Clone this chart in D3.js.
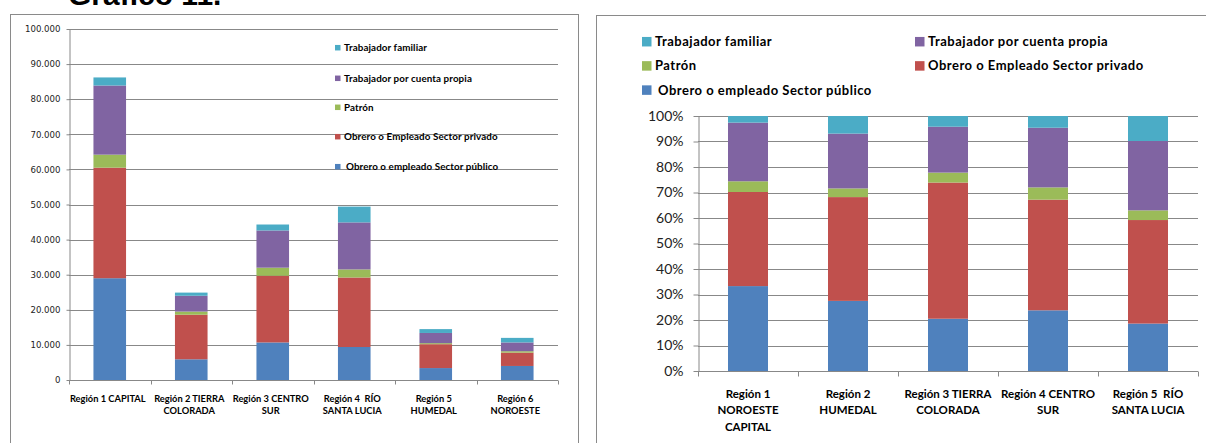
<!DOCTYPE html>
<html>
<head>
<meta charset="utf-8">
<script src="https://cdn.jsdelivr.net/npm/d3@7"></script>
<style>
	body { margin: 0; background: #fff; }
	svg { display: block; }
	.frame { fill: none; stroke: #8a8a8a; stroke-width: 1px; }
	.grid line { stroke: #888; stroke-width: 1.2px; }
	.axis-line { stroke: #888; stroke-width: 1px; }
	.title { font-family: 'Liberation Sans', Arial, sans-serif; font-weight: bold; font-size: 30px; fill: #000; }
	text { white-space: pre; }
</style>
</head>
<body>
<svg id="chart" width="1206" height="443"></svg>
<script>
// Series (stack order, bottom to top)
const categorias = ['Obrero o empleado Sector público', 'Obrero o Empleado Sector privado', 'Patrón', 'Trabajador por cuenta propia', 'Trabajador familiar'];
const colores = ['#4F81BD', '#C0504D', '#9BBB59', '#8064A2', '#4BACC6'];

// Left chart: absolute values
const regionesAbs = ['Región 1 CAPITAL', 'Región 2 TIERRA\nCOLORADA', 'Región 3 CENTRO\nSUR', 'Región 4  RÍO\nSANTA LUCIA', 'Región 5\nHUMEDAL', 'Región 6\nNOROESTE'];
const absPublico  = [29000, 5900, 10700, 9400, 3400, 4000];
const absPrivado  = [31500, 12700, 19000, 19800, 6800, 3800];
const absPatron   = [3700, 900, 2300, 2300, 300, 400];
const absPropia   = [19700, 4500, 10600, 13400, 2900, 2500];
const absFamiliar = [2300, 900, 1700, 4500, 1100, 1300];
const ticksAbs = [0, 10000, 20000, 30000, 40000, 50000, 60000, 70000, 80000, 90000, 100000];

// Right chart: shares (%)
const regionesPct = ['Región 1\nNOROESTE\nCAPITAL', 'Región 2\nHUMEDAL', 'Región 3 TIERRA\nCOLORADA', 'Región 4 CENTRO\nSUR', 'Región 5  RÍO\nSANTA LUCIA'];
const pctPublico  = [33.3, 27.5, 20.5, 23.8, 18.6];
const pctPrivado  = [36.9, 40.7, 53.4, 43.4, 40.6];
const pctPatron   = [4.2, 3.4, 3.9, 4.8, 3.8];
const pctPropia   = [23.0, 21.5, 18.0, 23.4, 27.2];
const pctFamiliar = [2.6, 6.9, 4.2, 4.6, 9.8];
const ticksPct = [0, 0.1, 0.2, 0.3, 0.4, 0.5, 0.6, 0.7, 0.8, 0.9, 1];

const es = d3.formatLocale({ decimal: ',', thousands: '.', grouping: [3], currency: ['$', ''] });

class StackedBar {

	constructor(_config, _regions, _series) {
		this.config = _config;
		this.regions = _regions;
		this.series = _series;
		this.initVis();
	}

	initVis() {
		let vis = this;
		let c = vis.config;

		vis.chart = d3.select('#chart').append('g')
			.attr('transform', `translate(${c.left},${c.top})`);

		vis.xScale = d3.scaleBand()
			.domain(vis.regions)
			.range([0, c.width])
			.paddingInner(0.6)
			.paddingOuter(0.3);

		vis.yScale = d3.scaleLinear()
			.domain(c.yDomain)
			.range([c.height, 0]);

		this.renderVis();
	}

	renderVis() {
		let vis = this;
		let c = vis.config;

		// rows for d3.stack
		let rows = vis.regions.map((r, i) => {
			let row = { region: r };
			categorias.forEach((k, j) => row[k] = vis.series[j][i]);
			return row;
		});
		let stack = d3.stack().keys(categorias);
		if (c.expand) stack.offset(d3.stackOffsetExpand);
		let layers = stack(rows);

		// gridlines
		vis.chart.append('g')
			.attr('class', 'grid')
			.selectAll('line')
			.data(c.yTicks.filter(d => d > 0))
			.join('line')
			.attr('x1', 0)
			.attr('x2', c.width)
			.attr('y1', d => Math.round(vis.yScale(d)) + 0.5)
			.attr('y2', d => Math.round(vis.yScale(d)) + 0.5);

		// bars
		vis.chart.append('g')
			.selectAll('g')
			.data(layers)
			.join('g')
			.attr('fill', (d, i) => colores[i])
			.selectAll('rect')
			.data(d => d)
			.join('rect')
			.attr('x', d => vis.xScale(d.data.region))
			.attr('y', d => vis.yScale(d[1]))
			.attr('width', vis.xScale.bandwidth())
			.attr('height', d => vis.yScale(d[0]) - vis.yScale(d[1]));

		// y axis
		let yAxis = d3.axisLeft(vis.yScale)
			.tickValues(c.yTicks)
			.tickFormat(c.tickFormat)
			.tickSizeInner(c.yTick)
			.tickSizeOuter(0)
			.tickPadding(c.yPad);
		let yAxisG = vis.chart.append('g').attr('transform', 'translate(0.5,0)').call(yAxis);
		yAxisG.select('.domain').attr('class', 'axis-line');
		yAxisG.selectAll('.tick line').attr('stroke', '#888');
		yAxisG.selectAll('.tick text')
			.attr('fill', c.yColor)
			.style('font-family', c.yFont)
			.style('font-size', c.ySize + 'px');

		// x axis line and ticks at category boundaries
		let base = Math.round(vis.yScale(c.yDomain[0])) + 0.5;
		vis.chart.append('line')
			.attr('class', 'axis-line')
			.attr('x1', 0).attr('x2', c.width)
			.attr('y1', base).attr('y2', base);
		let step = vis.xScale.step();
		vis.chart.append('g')
			.selectAll('line')
			.data(d3.range(vis.regions.length + 1))
			.join('line')
			.attr('class', 'axis-line')
			.attr('x1', d => Math.round(d * step) + 0.5)
			.attr('x2', d => Math.round(d * step) + 0.5)
			.attr('y1', base)
			.attr('y2', base + c.xTick);

		// category labels (multi-line)
		let labels = vis.chart.append('g')
			.selectAll('text')
			.data(vis.regions)
			.join('text')
			.attr('text-anchor', 'middle')
			.attr('fill', '#000')
			.style('font-family', 'Lato, sans-serif')
			.style('font-weight', 'bold')
			.style('font-size', c.xSize + 'px')
			.attr('transform', d => `translate(${vis.xScale(d) + vis.xScale.bandwidth() / 2 + c.xShift},${base + c.xFirst})`);
		labels.selectAll('tspan')
			.data(d => d.split('\n'))
			.join('tspan')
			.attr('x', 0)
			.attr('y', (d, i) => i * c.xLine)
			.text(d => d);

		// legend
		let items = categorias.map((k, i) => ({ name: k, color: colores[i] })).reverse();
		let legend = vis.chart.append('g')
			.selectAll('g')
			.data(items)
			.join('g')
			.attr('transform', (d, i) => `translate(${c.legendPos(i)})`);
		legend.append('rect')
			.attr('x', 0)
			.attr('y', -c.legendBox / 2)
			.attr('width', c.legendBox)
			.attr('height', c.legendBox)
			.attr('fill', d => d.color);
		legend.append('text')
			.attr('x', d => c.legendText + (d.name.startsWith('Obrero o empleado') ? c.legendIndent : 0))
			.attr('dy', '0.35em')
			.attr('fill', '#000')
			.style('font-family', 'Lato, sans-serif')
			.style('font-weight', 'bold')
			.style('font-size', c.legendSize + 'px')
			.style('letter-spacing', c.legendSpacing + 'px')
			.text(d => d.name);
	}
}

let svg = d3.select('#chart');

// frames
svg.append('rect').attr('class', 'frame').attr('x', 10.5).attr('y', 14.5).attr('width', 568).attr('height', 460);
svg.append('rect').attr('class', 'frame').attr('x', 596.5).attr('y', 15.5).attr('width', 640).attr('height', 460);

// title (cut off at the top, as in the source)
svg.append('text').attr('class', 'title').attr('x', 68).attr('y', 5).text('Gráfico 11.');

new StackedBar({
	left: 69, top: 29, width: 489, height: 351,
	yDomain: [0, 100000], yTicks: ticksAbs, tickFormat: es.format(','),
	yTick: 3, yPad: 6, yFont: "'DejaVu Sans', sans-serif", ySize: 8.6, yColor: '#222',
	xTick: 4, xSize: 9.3, xFirst: 21, xLine: 12, xShift: -2,
	legendBox: 5.5, legendText: 9, legendIndent: 2, legendSize: 9.8, legendSpacing: 0.1,
	legendPos: i => `${266},${[18.7, 49.3, 78.3, 107.7, 137.7][i]}`
}, regionesAbs, [absPublico, absPrivado, absPatron, absPropia, absFamiliar]);

new StackedBar({
	left: 698, top: 116, width: 500, height: 255, expand: true,
	yDomain: [0, 1], yTicks: ticksPct, tickFormat: d3.format('.0%'),
	yTick: 5, yPad: 10, yFont: 'Lato, sans-serif', ySize: 14, yColor: '#222',
	xTick: 5, xSize: 11.5, xFirst: 26, xLine: 16.7, xShift: 0,
	legendBox: 9.5, legendText: 13, legendIndent: 3, legendSize: 13, legendSpacing: 0.5,
	legendPos: i => `${(i % 2 ? 915 : 642) - 698},${41.7 + Math.floor(i / 2) * 24.2 - 116}`
}, regionesPct, [pctPublico, pctPrivado, pctPatron, pctPropia, pctFamiliar]);
</script>
</body>
</html>
